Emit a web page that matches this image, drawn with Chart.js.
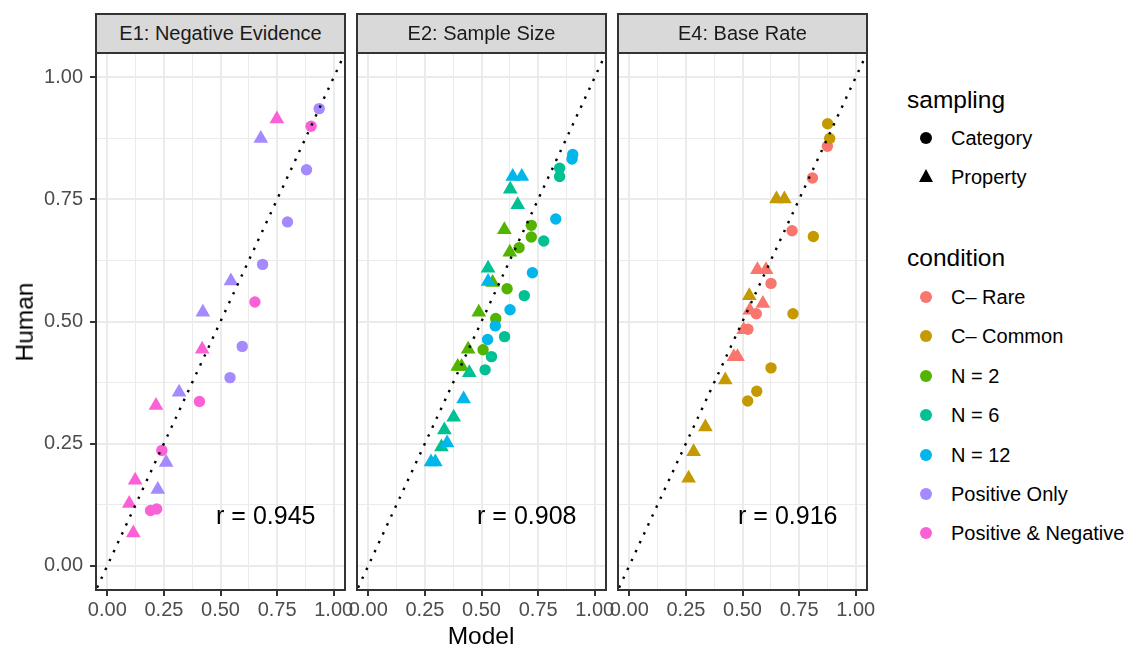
<!DOCTYPE html>
<html lang="en">
<head>
<meta charset="UTF-8">
<title>Model vs Human</title>
<script src="https://cdn.jsdelivr.net/npm/chart.js"></script>
<style>
    body {
        margin: 0;
        background: #ffffff;
        font-family: 'Liberation Sans', Arial, sans-serif;
    }
    .page {
        position: relative;
        width: 1128px;
        height: 648px;
        overflow: hidden;
    }
    .panel {
        position: absolute;
        top: 33px;
    }
    .strip {
        position: absolute;
        top: 13px;
        height: 41px;
        box-sizing: border-box;
        border: 2px solid #333333;
        background: #d9d9d9;
        color: #1a1a1a;
        font-size: 20px;
        line-height: 37px;
        text-align: center;
        white-space: nowrap;
        z-index: 2;
    }
    .axis-title {
        position: absolute;
        font-size: 24.5px;
        line-height: 1;
        color: #000;
        white-space: nowrap;
        transform: translate(-50%, -50%);
    }
    .legend-title {
        position: absolute;
        left: 907px;
        font-size: 24.5px;
        line-height: 30px;
        height: 30px;
        color: #000;
    }
    .legend-label {
        position: absolute;
        left: 951px;
        font-size: 20px;
        line-height: 24px;
        height: 24px;
        color: #000;
        white-space: nowrap;
    }
    .key-dot {
        position: absolute;
        width: 12px;
        height: 12px;
        border-radius: 50%;
        margin-left: -6px;
        margin-top: -6px;
    }
    .key-tri {
        position: absolute;
        width: 0;
        height: 0;
        border-left: 7.5px solid transparent;
        border-right: 7.5px solid transparent;
        border-bottom: 13px solid #000;
        margin-left: -7.5px;
        margin-top: -8.5px;
    }
</style>
</head>
<body>
<div class="page">
    <div class="panel" style="left:0px;"><canvas id="panelE1" width="365" height="597"></canvas></div>
    <div class="panel" style="left:337px;"><canvas id="panelE2" width="289" height="597"></canvas></div>
    <div class="panel" style="left:598px;"><canvas id="panelE4" width="289" height="597"></canvas></div>

    <div class="strip" style="left:95px; width:251px;">E1: Negative Evidence</div>
    <div class="strip" style="left:356px; width:251px;">E2: Sample Size</div>
    <div class="strip" style="left:617px; width:251px;">E4: Base Rate</div>

    <div class="axis-title" style="left:25px; top:322px; transform:translate(-50%, -50%) rotate(-90deg);">Human</div>
    <div class="axis-title" style="left:481px; top:636px;">Model</div>

    <div id="legend"></div>
</div>

<script>
    // categories
    const conditions = ['C\u2013 Rare', 'C\u2013 Common', 'N = 2', 'N = 6', 'N = 12', 'Positive Only', 'Positive & Negative'];
    const conditionColors = ['#F8766D', '#C49A00', '#53B400', '#00C094', '#00B6EB', '#A58AFF', '#FB61D7'];
    const samplings = ['Category', 'Property'];

    // axis ticks
    const majorTicks = [0, 0.25, 0.5, 0.75, 1];
    const tickLabels = ['0.00', '0.25', '0.50', '0.75', '1.00'];
    const minorTicks = [0.125, 0.375, 0.625, 0.875];

    // E1: Negative Evidence (condition index, sampling index 0 = Category, 1 = Property)
    const e1Model = [0.936, 0.880, 0.796, 0.686, 0.596, 0.542,
                     0.900, 0.652, 0.407, 0.241, 0.191, 0.218,
                     0.678, 0.546, 0.422, 0.317, 0.260, 0.223,
                     0.749, 0.419, 0.215, 0.123, 0.097, 0.115];
    const e1Human = [0.936, 0.811, 0.704, 0.617, 0.449, 0.385,
                     0.900, 0.540, 0.336, 0.236, 0.113, 0.116,
                     0.875, 0.583, 0.519, 0.355, 0.211, 0.156,
                     0.915, 0.443, 0.328, 0.175, 0.127, 0.067];
    const e1Condition = [5, 5, 5, 5, 5, 5,
                         6, 6, 6, 6, 6, 6,
                         5, 5, 5, 5, 5, 5,
                         6, 6, 6, 6, 6, 6];
    const e1Sampling = [0, 0, 0, 0, 0, 0, 0, 0, 0, 0, 0, 0,
                        1, 1, 1, 1, 1, 1, 1, 1, 1, 1, 1, 1];

    // E2: Sample Size
    const e2Model = [0.720, 0.720, 0.666, 0.613, 0.563, 0.507,
                     0.845, 0.845, 0.775, 0.689, 0.602, 0.544, 0.516,
                     0.903, 0.900, 0.828, 0.725, 0.626, 0.561, 0.527,
                     0.601, 0.625, 0.549, 0.488, 0.441, 0.395, 0.412,
                     0.627, 0.660, 0.529, 0.446, 0.377, 0.336, 0.323,
                     0.638, 0.678, 0.529, 0.421, 0.348, 0.277, 0.296];
    const e2Human = [0.697, 0.673, 0.651, 0.567, 0.506, 0.442,
                     0.814, 0.797, 0.665, 0.553, 0.469, 0.428, 0.401,
                     0.842, 0.833, 0.710, 0.600, 0.524, 0.491, 0.463,
                     0.688, 0.642, 0.580, 0.519, 0.443, 0.408, 0.408,
                     0.771, 0.739, 0.609, 0.395, 0.304, 0.278, 0.243,
                     0.797, 0.797, 0.582, 0.341, 0.251, 0.212, 0.212];
    const e2Condition = [2, 2, 2, 2, 2, 2,
                         3, 3, 3, 3, 3, 3, 3,
                         4, 4, 4, 4, 4, 4, 4,
                         2, 2, 2, 2, 2, 2, 2,
                         3, 3, 3, 3, 3, 3, 3,
                         4, 4, 4, 4, 4, 4, 4];
    const e2Sampling = [0, 0, 0, 0, 0, 0,
                        0, 0, 0, 0, 0, 0, 0,
                        0, 0, 0, 0, 0, 0, 0,
                        1, 1, 1, 1, 1, 1, 1,
                        1, 1, 1, 1, 1, 1, 1,
                        1, 1, 1, 1, 1, 1, 1];

    // E4: Base Rate
    const e4Model = [0.875, 0.809, 0.719, 0.626, 0.561, 0.524,
                     0.876, 0.885, 0.813, 0.723, 0.626, 0.563, 0.523,
                     0.566, 0.604, 0.590, 0.532, 0.505, 0.462, 0.478,
                     0.650, 0.685, 0.530, 0.424, 0.336, 0.284, 0.262];
    const e4Human = [0.859, 0.794, 0.686, 0.578, 0.516, 0.484,
                     0.905, 0.875, 0.674, 0.516, 0.405, 0.357, 0.337,
                     0.606, 0.606, 0.537, 0.523, 0.483, 0.428, 0.428,
                     0.751, 0.751, 0.553, 0.380, 0.284, 0.233, 0.179];
    const e4Condition = [0, 0, 0, 0, 0, 0,
                         1, 1, 1, 1, 1, 1, 1,
                         0, 0, 0, 0, 0, 0, 0,
                         1, 1, 1, 1, 1, 1, 1];
    const e4Sampling = [0, 0, 0, 0, 0, 0,
                        0, 0, 0, 0, 0, 0, 0,
                        1, 1, 1, 1, 1, 1, 1,
                        1, 1, 1, 1, 1, 1, 1];

    // correlation labels, placed at model 0.7 / human 0.1
    const rLabels = ['r = 0.945', 'r = 0.908', 'r = 0.916'];
    const rPos = [0.7, 0.1];

    const FONT = "'Liberation Sans', Arial, sans-serif";
    const gridValues = majorTicks.concat(minorTicks).sort((a, b) => a - b);
    const isMajor = v => majorTicks.indexOf(v) >= 0;

    // panel border + r annotation
    const panelFrame = {
        id: 'panelFrame',
        afterDatasetsDraw(chart, args, opts) {
            const { ctx, chartArea: a, scales } = chart;
            ctx.save();
            ctx.fillStyle = '#000000';
            ctx.font = '25px ' + FONT;
            ctx.textAlign = 'center';
            ctx.textBaseline = 'middle';
            ctx.fillText(opts.label, scales.x.getPixelForValue(rPos[0]), scales.y.getPixelForValue(rPos[1]));
            ctx.strokeStyle = '#333333';
            ctx.lineWidth = 2;
            ctx.strokeRect(a.left, a.top, a.right - a.left, a.bottom - a.top);
            ctx.restore();
        }
    };

    function axisOptions(isX, showLabels) {
        return {
            type: 'linear',
            min: -0.05,
            max: 1.05,
            afterBuildTicks: s => { s.ticks = gridValues.map(v => ({ value: v })); },
            afterFit: s => {
                if (isX) s.height = 40;
                else s.width = showLabels ? 84 : 0;
            },
            border: { display: false },
            grid: {
                color: '#ebebeb',
                lineWidth: c => isMajor(c.tick.value) ? 2 : 1,
                drawTicks: showLabels,
                tickLength: 6,
                tickWidth: 2,
                tickColor: c => isMajor(c.tick.value) ? '#333333' : 'rgba(0,0,0,0)'
            },
            ticks: {
                display: showLabels,
                autoSkip: false,
                maxRotation: 0,
                minRotation: 0,
                padding: isX ? 2 : 7,
                color: '#4d4d4d',
                font: { family: FONT, size: 20 },
                callback: v => {
                    const i = majorTicks.indexOf(v);
                    return i < 0 ? '' : tickLabels[i];
                }
            }
        };
    }

    function makePanel(id, model, human, cond, samp, label, showY) {
        return new Chart(document.getElementById(id), {
            type: 'scatter',
            data: {
                datasets: [
                    {
                        // identity line
                        data: [{ x: -0.1, y: -0.1 }, { x: 1.1, y: 1.1 }],
                        showLine: true,
                        borderColor: '#000000',
                        borderWidth: 2.4,
                        borderDash: [2.4, 7.4],
                        pointRadius: 0,
                        clip: 0,
                        order: 0
                    },
                    {
                        data: model.map((m, i) => ({ x: m, y: human[i] })),
                        backgroundColor: cond.map(c => conditionColors[c]),
                        pointStyle: samp.map(s => s === 0 ? 'circle' : 'triangle'),
                        pointRadius: samp.map(s => s === 0 ? 5.7 : 8.5),
                        borderWidth: 0,
                        order: 1
                    }
                ]
            },
            options: {
                responsive: false,
                animation: false,
                events: [],
                layout: { padding: { left: showY ? 12 : 20, right: 20, top: 20, bottom: 0 } },
                plugins: {
                    legend: { display: false },
                    tooltip: { enabled: false },
                    panelFrame: { label: label }
                },
                scales: {
                    x: axisOptions(true, true),
                    y: axisOptions(false, showY)
                }
            },
            plugins: [panelFrame]
        });
    }

    makePanel('panelE1', e1Model, e1Human, e1Condition, e1Sampling, rLabels[0], true);
    makePanel('panelE2', e2Model, e2Human, e2Condition, e2Sampling, rLabels[1], false);
    makePanel('panelE4', e4Model, e4Human, e4Condition, e4Sampling, rLabels[2], false);

    // legends
    const legend = document.getElementById('legend');
    function addEl(cls, styleText, text) {
        const el = document.createElement('div');
        el.className = cls;
        el.style.cssText = styleText;
        if (text) el.textContent = text;
        legend.appendChild(el);
    }
    addEl('legend-title', 'top:85px;', 'sampling');
    const samplingY = [138, 177];
    samplings.forEach((s, i) => {
        if (i === 0) addEl('key-dot', `left:926px; top:${samplingY[i]}px; background:#000;`);
        else addEl('key-tri', `left:926px; top:${samplingY[i]}px;`);
        addEl('legend-label', `top:${samplingY[i] - 12}px;`, s);
    });
    addEl('legend-title', 'top:243px;', 'condition');
    conditions.forEach((c, i) => {
        const y = 297 + i * 39.4;
        addEl('key-dot', `left:926px; top:${y}px; background:${conditionColors[i]};`);
        addEl('legend-label', `top:${y - 12}px;`, c);
    });
</script>
</body>
</html>
